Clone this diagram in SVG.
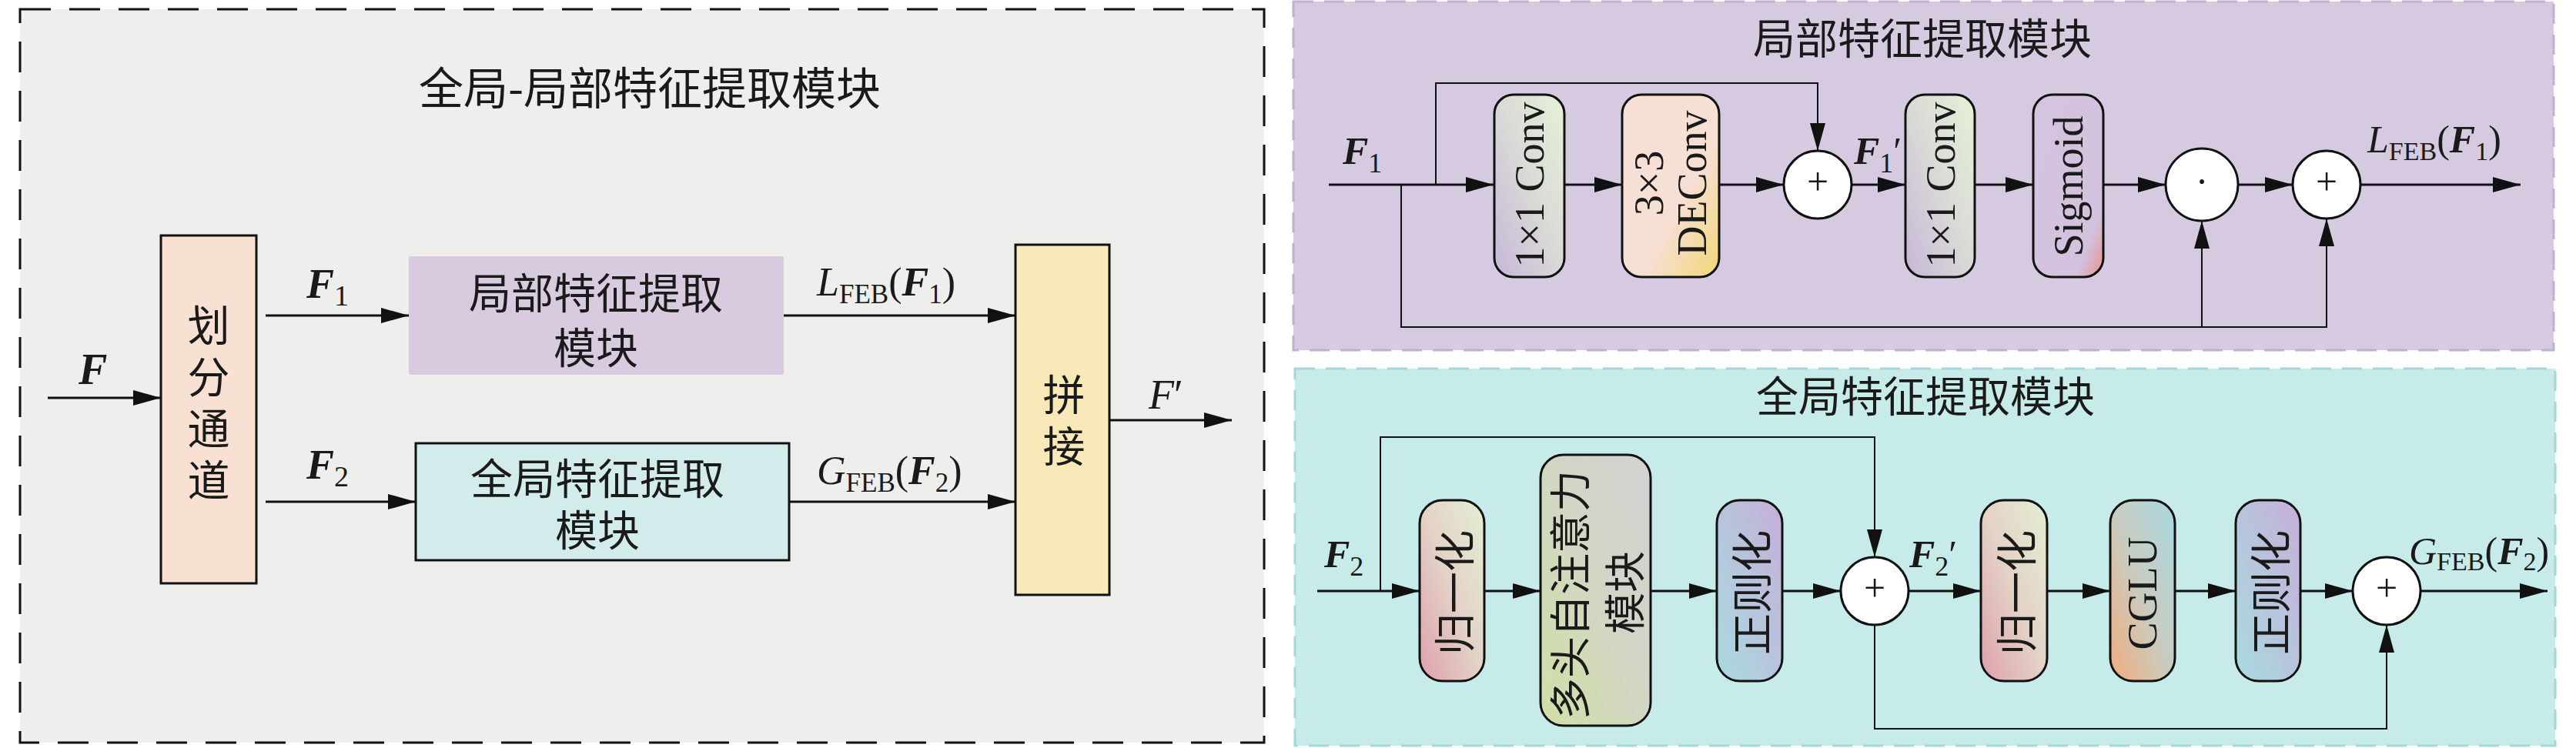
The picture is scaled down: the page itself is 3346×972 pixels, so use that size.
<svg xmlns="http://www.w3.org/2000/svg" width="3346" height="972" viewBox="0 0 3346 972">
<style>
.cjk{font-family:"Noto Sans CJK SC",sans-serif;fill:#1a1a1a}
.cj2{font-family:"Liberation Serif","Noto Sans CJK SC",sans-serif;fill:#1a1a1a}
.lat{font-family:"Liberation Serif","Noto Sans CJK SC",serif;fill:#1a1a1a}
.bi{font-weight:bold;font-style:italic}
.it{font-style:italic}
.ln{fill:none;stroke:#111;stroke-width:3}
.thin{stroke-width:2}
.box{stroke:#111;stroke-width:3}
.op{fill:#fff;stroke:#111;stroke-width:3}
.rt{text-anchor:middle;dominant-baseline:central}
.mid{text-anchor:middle}
.vt{writing-mode:vertical-rl;text-anchor:middle;letter-spacing:12px}
</style>
<defs>
<marker id="ah" viewBox="0 0 36 20" refX="36" refY="10" markerWidth="36" markerHeight="20" markerUnits="userSpaceOnUse" orient="auto"><path d="M0,0 L36,10 L0,20 z" fill="#111"/></marker>
<linearGradient id="gConv" x1="0" y1="1" x2="1" y2="0"><stop offset="0" stop-color="#c6b6d8"/><stop offset="0.5" stop-color="#d9d9d6"/><stop offset="1" stop-color="#e4f2d6"/></linearGradient>
<linearGradient id="gDE" x1="0" y1="0" x2="1" y2="1"><stop offset="0" stop-color="#f8e0d8"/><stop offset="0.6" stop-color="#f6dfd2"/><stop offset="1" stop-color="#f2d676"/></linearGradient>
<linearGradient id="gSig" x1="0" y1="0" x2="1" y2="1"><stop offset="0" stop-color="#d4c4e0"/><stop offset="0.8" stop-color="#d2c2de"/><stop offset="1" stop-color="#e8928c"/></linearGradient>
<linearGradient id="gNorm" x1="0" y1="1" x2="1" y2="0"><stop offset="0" stop-color="#dea0ac"/><stop offset="0.5" stop-color="#e3d2c6"/><stop offset="1" stop-color="#e3efd3"/></linearGradient>
<linearGradient id="gMH" x1="0" y1="1" x2="1" y2="0"><stop offset="0" stop-color="#d0e0a6"/><stop offset="0.6" stop-color="#d2d5c8"/><stop offset="1" stop-color="#d2d2d2"/></linearGradient>
<linearGradient id="gReg" x1="0" y1="1" x2="1" y2="0"><stop offset="0" stop-color="#a8dbe0"/><stop offset="1" stop-color="#c6aed8"/></linearGradient>
<linearGradient id="gCG" x1="0" y1="1" x2="1" y2="0"><stop offset="0" stop-color="#f2ac7e"/><stop offset="0.5" stop-color="#c8ccc0"/><stop offset="1" stop-color="#a8d8e2"/></linearGradient>
</defs>

<g id="panel-left">
<rect x="26" y="12" width="1616" height="953" fill="#eeeeec" stroke="#111" stroke-width="3" stroke-dasharray="40 24"/>
<text class="cjk mid" x="844" y="136" font-size="58">全局-局部特征提取模块</text>
</g>
<g id="panel-local">
<rect x="1680" y="2" width="1637" height="453" fill="#d6cae1" stroke="#bfb1d3" stroke-width="3" stroke-dasharray="26 14"/>
<text class="cjk mid" x="2497" y="70" font-size="55">局部特征提取模块</text>
</g>
<g id="panel-global">
<rect x="1682" y="479" width="1637" height="490" fill="#c6ebe9" stroke="#a6d6da" stroke-width="3" stroke-dasharray="26 14"/>
<text class="cjk mid" x="2501" y="535" font-size="55">全局特征提取模块</text>
</g>

<g id="connectors">
<path class="ln" d="M62,517 H209" marker-end="url(#ah)"/>
<path class="ln" d="M345,410 H531" marker-end="url(#ah)"/>
<path class="ln" d="M345,652 H540" marker-end="url(#ah)"/>
<path class="ln" d="M1018,410 H1319" marker-end="url(#ah)"/>
<path class="ln" d="M1025,652 H1319" marker-end="url(#ah)"/>
<path class="ln" d="M1441,546 H1600" marker-end="url(#ah)"/>

<path class="ln" d="M1726,240 H1940" marker-end="url(#ah)"/>
<path class="ln" d="M2032,240 H2107" marker-end="url(#ah)"/>
<path class="ln" d="M2233,240 H2317" marker-end="url(#ah)"/>
<path class="ln" d="M2405,240 H2475" marker-end="url(#ah)"/>
<path class="ln" d="M2565,240 H2641" marker-end="url(#ah)"/>
<path class="ln" d="M2732,240 H2813" marker-end="url(#ah)"/>
<path class="ln" d="M2907,240 H2978" marker-end="url(#ah)"/>
<path class="ln" d="M3066,240 H3274" marker-end="url(#ah)"/>
<path class="ln thin" d="M1865,240 V108 H2361 V196" marker-end="url(#ah)"/>
<path class="ln thin" d="M1820,240 V425 H3022 V284" marker-end="url(#ah)"/>
<path class="ln thin" d="M2860,425 V287" marker-end="url(#ah)"/>

<path class="ln" d="M1711,768 H1844" marker-end="url(#ah)"/>
<path class="ln" d="M1928,768 H2001" marker-end="url(#ah)"/>
<path class="ln" d="M2144,768 H2230" marker-end="url(#ah)"/>
<path class="ln" d="M2315,768 H2391" marker-end="url(#ah)"/>
<path class="ln" d="M2479,768 H2573" marker-end="url(#ah)"/>
<path class="ln" d="M2659,768 H2741" marker-end="url(#ah)"/>
<path class="ln" d="M2825,768 H2904" marker-end="url(#ah)"/>
<path class="ln" d="M2988,768 H3056" marker-end="url(#ah)"/>
<path class="ln" d="M3144,768 H3309" marker-end="url(#ah)"/>
<path class="ln thin" d="M1793,768 V568 H2435 V724" marker-end="url(#ah)"/>
<path class="ln thin" d="M2435,812 V947 H3100 V812" marker-end="url(#ah)"/>
</g>

<g id="labels">
<text class="lat bi" x="102" y="499" font-size="56">F</text>
<text class="lat" x="398" y="387" font-size="54"><tspan class="bi">F</tspan><tspan font-size="38" dy="10">1</tspan></text>
<text class="lat" x="398" y="622" font-size="54"><tspan class="bi">F</tspan><tspan font-size="38" dy="10">2</tspan></text>
<text class="lat" x="1061" y="384" font-size="52"><tspan class="it">L</tspan><tspan font-size="35" dy="10">FEB</tspan><tspan dy="-10">(</tspan><tspan class="bi">F</tspan><tspan font-size="35" dy="10">1</tspan><tspan dy="-10">)</tspan></text>
<text class="lat" x="1061" y="629" font-size="52"><tspan class="it">G</tspan><tspan font-size="35" dy="10">FEB</tspan><tspan dy="-10">(</tspan><tspan class="bi">F</tspan><tspan font-size="35" dy="10">2</tspan><tspan dy="-10">)</tspan></text>
<text class="lat" x="1492" y="531" font-size="54"><tspan class="it">F</tspan>′</text>

<text class="lat" x="1744" y="213" font-size="50"><tspan class="bi">F</tspan><tspan font-size="36" dy="11">1</tspan></text>
<text class="lat" x="2408" y="213" font-size="50"><tspan class="bi">F</tspan><tspan font-size="36" dy="11">1</tspan><tspan dy="-11">′</tspan></text>
<text class="lat" x="3075" y="198" font-size="50"><tspan class="it">L</tspan><tspan font-size="34" dy="10">FEB</tspan><tspan dy="-10">(</tspan><tspan class="bi">F</tspan><tspan font-size="34" dy="10">1</tspan><tspan dy="-10">)</tspan></text>

<text class="lat" x="1720" y="737" font-size="50"><tspan class="bi">F</tspan><tspan font-size="36" dy="11">2</tspan></text>
<text class="lat" x="2480" y="737" font-size="50"><tspan class="bi">F</tspan><tspan font-size="36" dy="11">2</tspan><tspan dy="-11">′</tspan></text>
<text class="lat" x="3129" y="733" font-size="50"><tspan class="it">G</tspan><tspan font-size="34" dy="8">FEB</tspan><tspan dy="-8">(</tspan><tspan class="bi">F</tspan><tspan font-size="34" dy="8">2</tspan><tspan dy="-8">)</tspan></text>
</g>

<g id="node-split">
<rect class="box" x="209" y="306" width="124" height="452" fill="#f8e0d2"/>
<text class="cjk vt" x="271" y="529" font-size="55">划分通道</text>
</g>
<g id="node-local">
<rect x="531" y="333" width="487" height="154" rx="3" fill="#d8cbe0"/>
<text class="cj2 mid" x="774" y="401" font-size="55">局部特征提取</text>
<text class="cj2 mid" x="774" y="472" font-size="55">模块</text>
</g>
<g id="node-global">
<rect class="box" x="540" y="576" width="485" height="152" fill="#d2ecec"/>
<text class="cj2 mid" x="776" y="642" font-size="55">全局特征提取</text>
<text class="cj2 mid" x="776" y="709" font-size="55">模块</text>
</g>
<g id="node-concat">
<rect class="box" x="1319" y="318" width="122" height="455" fill="#f9e9b9"/>
<text class="cjk vt" x="1382" y="552" font-size="55">拼接</text>
</g>

<g id="node-conv1">
<rect class="box" x="1941" y="123" width="91" height="237" rx="25" fill="url(#gConv)"/>
<text class="lat rt" font-size="54" transform="translate(1987,240) rotate(-90)">1×1 Conv</text>
</g>
<g id="node-deconv">
<rect class="box" x="2107" y="123" width="126" height="237" rx="25" fill="url(#gDE)"/>
<text class="lat rt" font-size="54" transform="translate(2142,238) rotate(-90)">3×3</text>
<text class="lat rt" font-size="54" transform="translate(2198,238) rotate(-90)">DEConv</text>
</g>
<g id="node-add1">
<circle class="op" cx="2361" cy="240" r="44"/>
<text class="lat mid" x="2361" y="253" font-size="50">+</text>
</g>
<g id="node-conv2">
<rect class="box" x="2475" y="123" width="90" height="237" rx="25" fill="url(#gConv)"/>
<text class="lat rt" font-size="54" transform="translate(2521,240) rotate(-90)">1×1 Conv</text>
</g>
<g id="node-sigmoid">
<rect class="box" x="2641" y="123" width="91" height="237" rx="25" fill="url(#gSig)"/>
<text class="lat rt" font-size="54" transform="translate(2687,242) rotate(-90)">Sigmoid</text>
</g>
<g id="node-mul">
<circle class="op" cx="2860" cy="240" r="47"/>
<text class="lat mid" x="2860" y="253" font-size="50">·</text>
</g>
<g id="node-add2">
<circle class="op" cx="3022" cy="240" r="44"/>
<text class="lat mid" x="3022" y="253" font-size="50">+</text>
</g>

<g id="node-norm1">
<rect class="box" x="1844" y="650" width="84" height="235" rx="30" fill="url(#gNorm)"/>
<text class="cjk rt" font-size="54" transform="translate(1886,770) rotate(-90)">归一化</text>
</g>
<g id="node-mhsa">
<rect class="box" x="2001" y="591" width="143" height="352" rx="30" fill="url(#gMH)"/>
<text class="cjk rt" font-size="54" transform="translate(2036,773) rotate(-90)">多头自注意力</text>
<text class="cjk rt" font-size="54" transform="translate(2107,770) rotate(-90)">模块</text>
</g>
<g id="node-reg1">
<rect class="box" x="2230" y="650" width="85" height="235" rx="30" fill="url(#gReg)"/>
<text class="cjk rt" font-size="54" transform="translate(2272,770) rotate(-90)">正则化</text>
</g>
<g id="node-add3">
<circle class="op" cx="2435" cy="768" r="44"/>
<text class="lat mid" x="2435" y="781" font-size="50">+</text>
</g>
<g id="node-norm2">
<rect class="box" x="2573" y="650" width="86" height="235" rx="30" fill="url(#gNorm)"/>
<text class="cjk rt" font-size="54" transform="translate(2616,770) rotate(-90)">归一化</text>
</g>
<g id="node-cglu">
<rect class="box" x="2741" y="650" width="84" height="235" rx="30" fill="url(#gCG)"/>
<text class="lat rt" font-size="54" transform="translate(2783,771) rotate(-90)">CGLU</text>
</g>
<g id="node-reg2">
<rect class="box" x="2904" y="650" width="84" height="235" rx="30" fill="url(#gReg)"/>
<text class="cjk rt" font-size="54" transform="translate(2946,770) rotate(-90)">正则化</text>
</g>
<g id="node-add4">
<circle class="op" cx="3100" cy="768" r="44"/>
<text class="lat mid" x="3100" y="781" font-size="50">+</text>
</g>
</svg>
